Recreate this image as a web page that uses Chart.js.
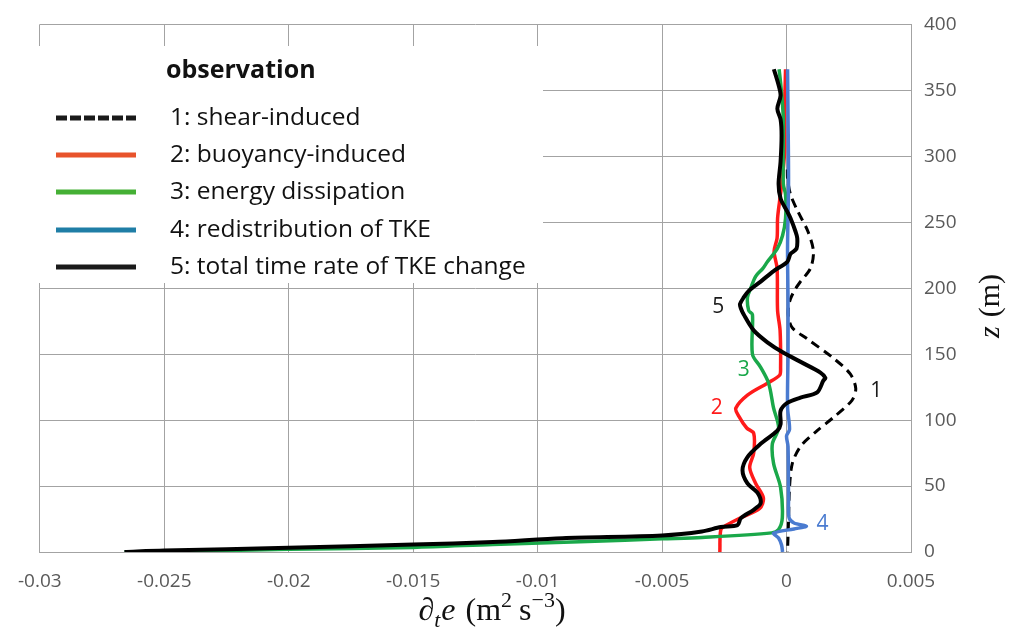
<!DOCTYPE html>
<html>
<head>
<meta charset="utf-8">
<script src="https://cdn.jsdelivr.net/npm/chart.js@4.4.0/dist/chart.umd.min.js"></script>
<style>
  html, body { margin: 0; padding: 0; background: #fff; }
  #wrap { width: 1009px; height: 634px; }
</style>
</head>
<body>
<div id="wrap"><canvas id="tkeChart" width="1009" height="634"></canvas></div>
<script>
// TKE budget profiles (observation), x in m2 s-3, z in m

const xTickValues = [-0.03, -0.025, -0.02, -0.015, -0.01, -0.005, 0, 0.005];
const xTickLabels = ['-0.03', '-0.025', '-0.02', '-0.015', '-0.01', '-0.005', '0', '0.005'];

// 1: shear-induced
const shearZ = [290, 283, 271, 258, 243, 228, 215, 205, 199, 192, 186, 178, 170, 162, 147, 135, 124, 115, 102, 92, 80, 67, 49, 24, 0];
const shearV = [0.00003, 0.00004, 0.00016, 0.00046, 0.00086, 0.00108, 0.00096, 0.00056, 0.00034, 0.00016, 0.00008, 0.00008, 0.00023, 0.0008, 0.00188, 0.00256, 0.00278, 0.00263, 0.00188, 0.00123, 0.00056, 0.00023, 0.00012, 0.00008, 0.00004];

// 2: buoyancy-induced
const buoyZ = [366, 334, 303, 278, 266, 253, 238, 228, 215, 183, 168, 140, 134, 128, 119, 109, 103, 94, 90, 75, 64, 52, 41, 33, 26, 20, 17, 0];
const buoyV = [-0.00004, -0.00008, -0.00008, -0.0002, -0.00028, -0.00036, -0.00038, -0.0005, -0.00038, -0.00036, -0.00026, -0.00024, -0.00028, -0.00077, -0.00157, -0.00204, -0.00192, -0.0016, -0.00132, -0.00132, -0.00148, -0.00124, -0.00093, -0.00108, -0.00184, -0.00244, -0.00264, -0.00268];

// 3: energy dissipation
const dissZ = [366, 356, 341, 328, 279, 271, 253, 240, 230, 220, 215, 209, 200, 193, 183, 180, 150, 140, 128, 109, 94, 82, 67, 49, 26, 17, 14.5, 11, 10, 8, 5.7, 3.5, 2, 0.3, 0];
const dissV = [-0.0003, -0.00024, -0.00017, -0.00013, -0.00013, -0.00004, -0.00004, -0.00016, -0.00037, -0.00077, -0.00095, -0.00124, -0.00144, -0.00157, -0.00152, -0.00137, -0.00137, -0.00104, -0.00072, -0.00052, -0.00032, -0.00057, -0.00052, -0.00024, -0.00017, -0.00032, -0.0006, -0.0034, -0.005, -0.008, -0.0118, -0.015, -0.02, -0.025, -0.0266];

// 4: redistribution of TKE
const redisZ = [366, 330, 280, 230, 190, 150, 110, 93, 88, 80, 40, 26, 22, 19.6, 17.5, 14.3, 10.6, 5.3, 0];
const redisV = [0.00004, 0.00006, 0.00008, 0.00004, 0.00006, 0.00006, 0.00004, 0.00012, 0, 0.00006, 0.00008, 0.0001, 0.0003, 0.0008, 0.0003, -0.00052, -0.00032, -0.0002, -0.00016];

// 5: total time rate of TKE change
const totalZ = [366, 354, 346, 336, 328, 316, 296, 279, 268, 258, 253, 243, 238, 230, 226, 220, 213, 205, 198, 193, 188, 185, 180, 168, 159, 151, 143, 136, 132, 130, 121, 117, 113, 107, 97, 92, 82, 72, 62, 52, 45, 37, 32, 25.5, 20.4, 18.9, 15.5, 12.5, 10.5, 7.6, 5.6, 3.2, 1.1, 0];
const totalV = [-0.00051, -0.00032, -0.00024, -0.00037, -0.00024, -0.0002, -0.00024, -0.00032, -0.00024, 0.00003, 0.00016, 0.00036, 0.00043, 0.0004, 0.00016, 0.00003, -0.00052, -0.00104, -0.00152, -0.00172, -0.00187, -0.00184, -0.00172, -0.00132, -0.00077, -0.00012, 0.00068, 0.00136, 0.00156, 0.00148, 0.00123, 0.00056, 0.00003, -0.00024, -0.00024, -0.00037, -0.00104, -0.00157, -0.00177, -0.00157, -0.00117, -0.00104, -0.00132, -0.00184, -0.00197, -0.00264, -0.0034, -0.005, -0.009, -0.0118, -0.015, -0.02, -0.025, -0.0266];

const legendLabels = ['1: shear-induced', '2: buoyancy-induced', '3: energy dissipation', '4: redistribution of TKE', '5: total time rate of TKE change'];
const legendColors = ['#1a1a1a', '#e8532b', '#45b035', '#1f7ea6', '#1a1a1a'];

// curve number tags, placed in data units
const tagText = ['1', '2', '3', '4', '5'];
const tagX = [0.0036, -0.0028, -0.00172, 0.00144, -0.00274];
const tagZ = [122, 109, 138, 21, 186];
const tagColors = ['#1a1a1a', '#ff1a1a', '#1aa84a', '#4a7bd0', '#1a1a1a'];

const gridColor = '#a3a3a3';
const tickColor = '#595959';

function toPoints(zs, vs) {
    return zs.map((z, i) => ({ x: vs[i], y: z }));
}

function drawPieces(ctx, pieces, x, y) {
    let cx = x;
    pieces.forEach(p => {
        ctx.font = p.font;
        ctx.fillText(p.t, cx, y + (p.dy || 0));
        cx += ctx.measureText(p.t).width + (p.gap || 0);
    });
}

function piecesWidth(ctx, pieces) {
    let w = 0;
    pieces.forEach(p => {
        ctx.font = p.font;
        w += ctx.measureText(p.t).width + (p.gap || 0);
    });
    return w;
}

const overlayPlugin = {
    id: 'overlay',
    beforeDatasetsDraw(chart) {
        const ctx = chart.ctx;
        ctx.save();
        // legend box covers the grid
        ctx.fillStyle = '#ffffff';
        ctx.fillRect(39, 46, 504, 237);

        ctx.fillStyle = '#111';
        ctx.textBaseline = 'middle';
        ctx.font = 'bold 25px "Open Sans"';
        ctx.fillText('observation', 166, 71);

        const rows = [118, 155, 192, 230, 267];
        legendLabels.forEach((lab, i) => {
            ctx.strokeStyle = legendColors[i];
            ctx.lineWidth = 5;
            ctx.setLineDash(i === 0 ? [11, 3] : []);
            ctx.beginPath();
            ctx.moveTo(56, rows[i]);
            ctx.lineTo(136, rows[i]);
            ctx.stroke();
            ctx.setLineDash([]);
            ctx.fillStyle = '#111';
            ctx.font = '24.5px "Open Sans"';
            ctx.fillText(lab, 170, rows[i]);
        });
        ctx.restore();
    },
    afterDatasetsDraw(chart) {
        const ctx = chart.ctx;
        const xs = chart.scales.x;
        const ys = chart.scales.y;
        ctx.save();
        ctx.textAlign = 'center';
        ctx.textBaseline = 'middle';
        ctx.font = '21px "Open Sans"';
        tagText.forEach((t, i) => {
            ctx.fillStyle = tagColors[i];
            ctx.fillText(t, xs.getPixelForValue(tagX[i]), ys.getPixelForValue(tagZ[i]));
        });
        ctx.restore();
    },
    afterDraw(chart) {
        const ctx = chart.ctx;
        ctx.save();
        ctx.fillStyle = '#111';
        ctx.textBaseline = 'alphabetic';
        ctx.textAlign = 'left';
        const serif = '"Liberation Serif", "DejaVu Serif", serif';
        // x axis title
        const xt = [
            { t: '\u2202', font: '32px ' + serif },
            { t: 't', font: 'italic 22px ' + serif, dy: 7, gap: 1 },
            { t: 'e', font: 'italic 32px ' + serif, gap: 10 },
            { t: '(m', font: '32px ' + serif },
            { t: '2', font: '22px ' + serif, dy: -13, gap: 7 },
            { t: 's', font: '32px ' + serif },
            { t: '\u22123', font: '22px ' + serif, dy: -13 },
            { t: ')', font: '32px ' + serif }
        ];
        const wx = piecesWidth(ctx, xt);
        drawPieces(ctx, xt, 492 - wx / 2, 620);

        // y axis title, rotated
        const yt = [
            { t: 'z', font: 'italic 30px ' + serif, gap: 9 },
            { t: '(m)', font: '30px ' + serif }
        ];
        const wy = piecesWidth(ctx, yt);
        ctx.translate(999, 306);
        ctx.rotate(-Math.PI / 2);
        drawPieces(ctx, yt, -wy / 2, 0);
        ctx.restore();
    }
};

const ctx = document.getElementById('tkeChart');

new Chart(ctx, {
    type: 'scatter',
    data: {
        datasets: [
            {
                label: '5: total time rate of TKE change',
                data: toPoints(totalZ, totalV),
                borderColor: '#000000',
                borderWidth: 4,
                order: 0
            },
            {
                label: '4: redistribution of TKE',
                data: toPoints(redisZ, redisV),
                borderColor: '#4a7bd0',
                borderWidth: 3.5,
                order: 1
            },
            {
                label: '3: energy dissipation',
                data: toPoints(dissZ, dissV),
                borderColor: '#1aa84a',
                borderWidth: 3.5,
                order: 2
            },
            {
                label: '2: buoyancy-induced',
                data: toPoints(buoyZ, buoyV),
                borderColor: '#ff1a1a',
                borderWidth: 3.5,
                order: 3
            },
            {
                label: '1: shear-induced',
                data: toPoints(shearZ, shearV),
                borderColor: '#000000',
                borderWidth: 3,
                borderDash: [9, 6],
                order: 4
            }
        ]
    },
    options: {
        responsive: false,
        animation: false,
        showLine: true,
        elements: {
            point: { radius: 0, hoverRadius: 0 },
            line: { tension: 0.3, fill: false, borderCapStyle: 'butt' }
        },
        layout: { padding: { top: 22, left: 35, right: 0, bottom: 0 } },
        plugins: {
            legend: { display: false },
            tooltip: { enabled: false }
        },
        scales: {
            x: {
                type: 'linear',
                min: -0.03,
                max: 0.005,
                afterBuildTicks: (scale) => {
                    scale.ticks = xTickValues.map(v => ({ value: v }));
                },
                afterFit: (scale) => { scale.height = 82; },
                ticks: {
                    callback: (value, index) => xTickLabels[index],
                    color: tickColor,
                    font: { family: '"Open Sans"', size: 19 },
                    padding: 18,
                    maxRotation: 0,
                    autoSkip: false
                },
                grid: { color: gridColor, lineWidth: 1, drawTicks: false },
                border: { color: gridColor, width: 1 }
            },
            y: {
                type: 'linear',
                position: 'right',
                min: 0,
                max: 400,
                afterFit: (scale) => { scale.width = 98; },
                ticks: {
                    stepSize: 50,
                    color: tickColor,
                    font: { family: '"Open Sans"', size: 19 },
                    padding: 13
                },
                grid: { color: gridColor, lineWidth: 1, drawTicks: false },
                border: { color: gridColor, width: 1 }
            }
        }
    },
    plugins: [overlayPlugin]
});
</script>
</body>
</html>
